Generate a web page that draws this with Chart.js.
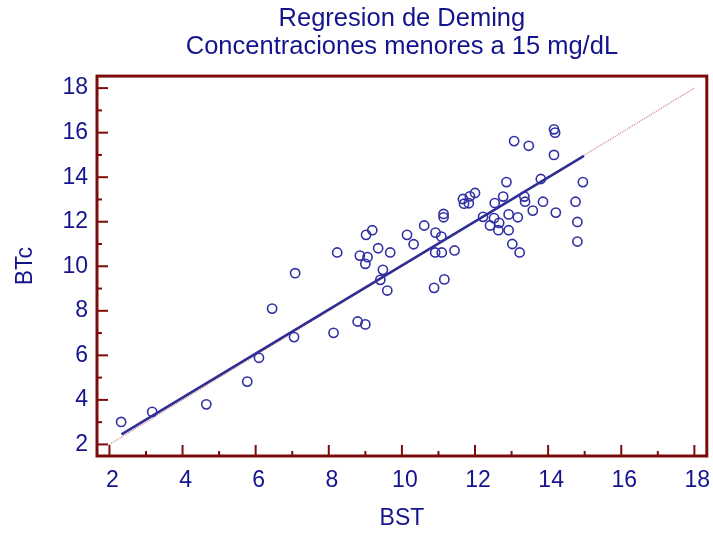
<!DOCTYPE html>
<html>
<head>
<meta charset="utf-8">
<script src="https://cdn.jsdelivr.net/npm/chart.js@4.4.1/dist/chart.umd.min.js"></script>
<style>
  html, body { margin: 0; padding: 0; background: #ffffff; }
  #wrap { width: 713px; height: 533px; }
</style>
</head>
<body>
<div id="wrap"><canvas id="demingCanvas" width="713" height="533"></canvas></div>
<script>
// valores (BST en x, BTc en y)
var bstValues = [2.32, 3.17, 4.65, 5.77, 6.09, 6.45, 7.08, 7.05, 8.13, 8.23,
    8.79, 9.00, 8.85, 9.06, 9.00, 9.02, 9.19, 9.35, 9.48, 9.41,
    9.60, 9.68, 10.14, 10.32, 10.61, 10.92, 11.08, 10.88, 11.16, 10.91,
    11.09, 11.14, 11.14, 11.44, 11.67, 11.70, 11.83, 11.86, 12.00, 12.22,
    12.41, 12.52, 12.54, 12.66, 12.64, 12.77, 12.86, 12.92, 12.92, 13.02,
    13.17, 13.22, 13.07, 13.47, 13.35, 13.37, 13.58, 13.80, 13.86, 14.16,
    14.19, 14.16, 14.21, 14.75, 14.80, 14.80, 14.95];
var btcValues = [3.01, 3.46, 3.80, 4.82, 5.89, 8.10, 9.69, 6.82, 7.01, 10.62,
    7.52, 7.39, 10.48, 10.41, 10.11, 11.41, 11.62, 10.81, 9.84, 9.39,
    8.91, 10.62, 11.41, 10.99, 11.83, 11.51, 11.33, 9.03, 9.41, 10.62,
    10.62, 12.35, 12.20, 10.71, 13.02, 12.81, 12.83, 13.14, 13.29, 12.22,
    11.83, 12.16, 12.84, 11.95, 11.62, 13.13, 13.78, 12.33, 11.62, 11.00,
    12.20, 10.62, 15.62, 15.41, 13.13, 12.90, 12.50, 13.92, 12.90, 16.15,
    16.00, 15.00, 12.41, 12.90, 11.99, 11.11, 13.78];

// recta de Deming (extremos) y recta identidad
var demingX = [2.33, 14.98];
var demingY = [2.45, 14.96];
var identityX = [2, 18];
var identityY = [2, 18];

var tickValues = [2, 4, 6, 8, 10, 12, 14, 16, 18];
var minorTickValues = [3, 5, 7, 9, 11, 13, 15, 17];

var navy = '#14148c';
var maroon = '#7d0b0b';
var fontFamily = '"Liberation Sans", Arial, sans-serif';

function toPoints(xs, ys) {
    return xs.map(function(x, i) { return { x: x, y: ys[i] }; });
}

// marco y marcas de las escalas, hacia dentro
var framePlugin = {
    id: 'frame',
    afterDraw: function(chart) {
        var ctx = chart.ctx;
        var area = chart.chartArea;
        var xs = chart.scales.x;
        var ys = chart.scales.y;
        ctx.save();
        ctx.strokeStyle = maroon;
        ctx.lineWidth = 2;
        tickValues.concat(minorTickValues).forEach(function(v) {
            var len = v % 2 === 0 ? 11 : 5;
            var px = xs.getPixelForValue(v);
            ctx.beginPath();
            ctx.moveTo(px, area.bottom);
            ctx.lineTo(px, area.bottom - len);
            ctx.stroke();
            var py = ys.getPixelForValue(v);
            ctx.beginPath();
            ctx.moveTo(area.left, py);
            ctx.lineTo(area.left + len, py);
            ctx.stroke();
        });
        ctx.lineWidth = 3;
        ctx.strokeRect(area.left, area.top, area.right - area.left, area.bottom - area.top);
        ctx.restore();
    }
};

var ctx = document.getElementById('demingCanvas').getContext('2d');
new Chart(ctx, {
    type: 'scatter',
    data: {
        datasets: [
            {
                label: 'Datos',
                data: toPoints(bstValues, btcValues),
                pointStyle: 'circle',
                pointRadius: 4.6,
                pointBorderWidth: 1.6,
                pointBorderColor: '#3030a4',
                pointBackgroundColor: 'rgba(0,0,0,0)',
                order: 1
            },
            {
                label: 'Deming',
                type: 'line',
                data: toPoints(demingX, demingY),
                borderColor: '#2e2e92',
                borderWidth: 2.5,
                pointRadius: 0,
                fill: false,
                order: 2
            },
            {
                label: 'Identidad',
                type: 'line',
                data: toPoints(identityX, identityY),
                borderColor: 'rgba(190,85,85,0.75)',
                borderWidth: 1.2,
                borderDash: [1, 1],
                pointRadius: 0,
                fill: false,
                order: 3
            }
        ]
    },
    options: {
        responsive: false,
        animation: false,
        layout: { padding: { top: 0, right: 5, bottom: 0, left: 0 } },
        plugins: {
            legend: { display: false },
            tooltip: { enabled: false },
            title: {
                display: true,
                fullSize: false,
                text: ['Regresion de Deming', 'Concentraciones menores a 15 mg/dL'],
                color: navy,
                font: { family: fontFamily, size: 25.5, weight: 'normal', lineHeight: 1.1 },
                padding: { top: 5, bottom: 15 }
            }
        },
        scales: {
            x: {
                type: 'linear',
                min: 1.66,
                max: 18.34,
                grid: { display: false, drawTicks: false },
                border: { display: false },
                afterBuildTicks: function(axis) {
                    axis.ticks = tickValues.map(function(v) { return { value: v }; });
                },
                afterFit: function(axis) {
                    axis.height = 77;
                    axis.paddingLeft = 0;
                    axis.paddingRight = 0;
                },
                ticks: {
                    autoSkip: false,
                    maxRotation: 0,
                    padding: 11,
                    labelOffset: 3,
                    color: navy,
                    font: { family: fontFamily, size: 23 }
                },
                title: {
                    display: true,
                    text: 'BST',
                    color: navy,
                    font: { family: fontFamily, size: 23 },
                    padding: { top: 0, bottom: 1 }
                }
            },
            y: {
                type: 'linear',
                min: 1.48,
                max: 18.54,
                grid: { display: false, drawTicks: false },
                border: { display: false },
                afterBuildTicks: function(axis) {
                    axis.ticks = tickValues.map(function(v) { return { value: v }; });
                },
                afterFit: function(axis) {
                    axis.width = 97;
                    axis.paddingTop = 0;
                    axis.paddingBottom = 0;
                },
                ticks: {
                    autoSkip: false,
                    padding: 9,
                    color: navy,
                    font: { family: fontFamily, size: 23 }
                },
                title: {
                    display: true,
                    text: 'BTc',
                    color: navy,
                    font: { family: fontFamily, size: 23 },
                    padding: { top: 12, bottom: 0 }
                }
            }
        }
    },
    plugins: [framePlugin]
});
</script>
</body>
</html>
